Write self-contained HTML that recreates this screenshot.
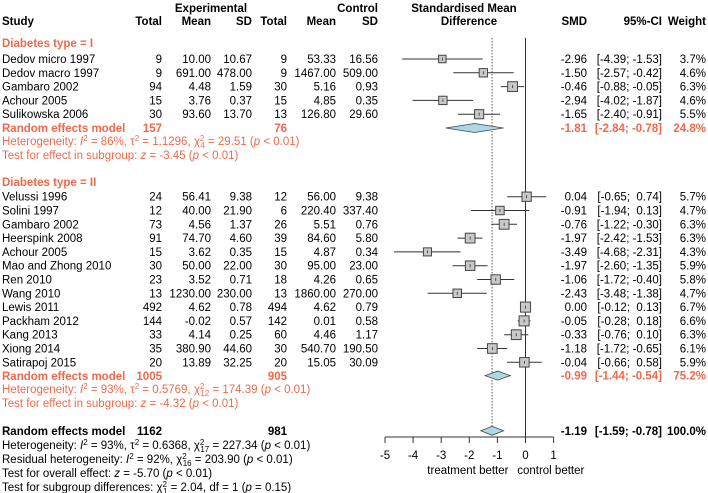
<!DOCTYPE html>
<html><head><meta charset="utf-8"><style>
html,body{margin:0;padding:0;background:#fff;}
svg{display:block;font-family:"Liberation Sans",Arial,sans-serif;font-size:11.5px;}
text{white-space:pre;}
.b{font-weight:bold}
.o{fill:#ee6a4c}
</style></head><body>
<svg id="fp" width="708" height="493" viewBox="0 0 708 493" xml:space="preserve"></svg>
<script>
const studiesI = ["Dedov micro 1997","Dedov macro 1997","Gambaro 2002","Achour 2005","Sulikowska 2006"];
const tableI = [
 ["9","10.00","10.67","9","53.33","16.56"],
 ["9","691.00","478.00","9","1467.00","509.00"],
 ["94","4.48","1.59","30","5.16","0.93"],
 ["15","3.76","0.37","15","4.85","0.35"],
 ["30","93.60","13.70","13","126.80","29.60"]];
const smdI = [-2.96,-1.50,-0.46,-2.94,-1.65];
const loI = [-4.39,-2.57,-0.88,-4.02,-2.40];
const hiI = [-1.53,-0.42,-0.05,-1.87,-0.91];
const wI = [3.7,4.6,6.3,4.6,5.5];
const studiesII = ["Velussi 1996","Solini 1997","Gambaro 2002","Heerspink 2008","Achour 2005","Mao and Zhong 2010","Ren 2010","Wang 2010","Lewis 2011","Packham 2012","Kang 2013","Xiong 2014","Satirapoj 2015"];
const tableII = [
 ["24","56.41","9.38","12","56.00","9.38"],
 ["12","40.00","21.90","6","220.40","337.40"],
 ["73","4.56","1.37","26","5.51","0.76"],
 ["91","74.70","4.60","39","84.60","5.80"],
 ["15","3.62","0.35","15","4.87","0.34"],
 ["30","50.00","22.00","30","95.00","23.00"],
 ["23","3.52","0.71","18","4.26","0.65"],
 ["13","1230.00","230.00","13","1860.00","270.00"],
 ["492","4.62","0.78","494","4.62","0.79"],
 ["144","-0.02","0.57","142","0.01","0.58"],
 ["33","4.14","0.25","60","4.46","1.17"],
 ["35","380.90","44.60","30","540.70","190.50"],
 ["20","13.89","32.25","20","15.05","30.09"]];
const smdII = [0.04,-0.91,-0.76,-1.97,-3.49,-1.97,-1.06,-2.43,0.00,-0.05,-0.33,-1.18,-0.04];
const loII = [-0.65,-1.94,-1.22,-2.42,-4.68,-2.60,-1.72,-3.48,-0.12,-0.28,-0.76,-1.72,-0.66];
const hiII = [0.74,0.13,-0.30,-1.53,-2.31,-1.35,-0.40,-1.38,0.13,0.18,0.10,-0.65,0.58];
const wII = [5.7,4.7,6.3,6.3,4.3,5.9,5.8,4.7,6.7,6.6,6.3,6.1,5.9];
const pooled = [[-1.81,-2.84,-0.78,"24.8%"],[-0.99,-1.44,-0.54,"75.2%"],[-1.19,-1.59,-0.78,"100.0%"]];
const ticks = [-5,-4,-3,-2,-1,0,1];

const svg = document.getElementById('fp');
const NS = "http://www.w3.org/2000/svg";
const X = v => 525.5 + v*28.1;
const fmt = v => (v<0?"-":" ") + Math.abs(v).toFixed(2);
const ci = (lo,hi) => "[" + (lo<0?"-":"") + Math.abs(lo).toFixed(2) + "; " + fmt(hi) + "]";
function el(tag, attrs, parent){const e=document.createElementNS(NS,tag);for(const k in attrs)e.setAttribute(k,attrs[k]);(parent||svg).appendChild(e);return e;}
function txt(x,y,s,anchor,cls,name){const t=el('text',{x:x,y:y,'text-anchor':anchor||'start'});if(cls)t.setAttribute('class',cls);t.textContent=s;


return t;}
function rich(x,y,html,cls,name){const t=el('text',{x:x,y:y});if(cls)t.setAttribute('class',cls);t.innerHTML=html;


return t;}
const colX=[162,211,252,287,336,378];
txt(211,12,"Experimental","middle","b","header-experimental");
txt(378,12,"Control","end","b","header-control");
txt(2,25,"Study","start","b","header-study");
["Total","Mean","SD","Total","Mean","SD"].forEach((h,i)=>txt(colX[i],25,h,"end","b","header-col"));
txt(464,12,"Standardised Mean","middle","b","header-smd-title");
txt(469,25,"Difference","middle","b","header-smd-title2");
txt(587,25,"SMD","end","b","header-smd");
txt(662,25,"95%-CI","end","b","header-ci");
txt(706,25,"Weight","end","b","header-weight");
el('line',{x1:X(0),x2:X(0),y1:38,y2:437,stroke:'#333','stroke-width':1});
el('line',{x1:X(pooled[2][0]),x2:X(pooled[2][0]),y1:38,y2:437,stroke:'#333','stroke-width':0.8,'stroke-dasharray':'1.5,1.5'});
function studyRow(name,tab,s,lo,hi,w,y){
  txt(2,y+4,name,"start",null,"study-name");
  tab.forEach((v,i)=>txt(colX[i],y+4,v,"end",null,"study-value"));
  const ln=el('line',{x1:X(lo),x2:X(hi),y1:y,y2:y,stroke:'#333','stroke-width':1});
  
  const sz=3.9*Math.sqrt(w);
  const r=el('rect',{x:X(s)-sz/2,y:y-sz/2,width:sz,height:sz,fill:'#c8c8c8',stroke:'#444','stroke-width':1});
  
  el('line',{x1:X(s),x2:X(s),y1:y-1.5,y2:y+1.5,stroke:'#333','stroke-width':0.8});
  txt(587,y+4,fmt(s),"end",null,"smd-value");
  txt(662,y+4,ci(lo,hi),"end",null,"ci-value");
  txt(706,y+4,w.toFixed(1)+"%","end",null,"weight-value");
}
function diamond(p,y,cls,name){
  const d=el('polygon',{points:`${X(p[1])},${y} ${X(p[0])},${y-4.5} ${X(p[2])},${y} ${X(p[0])},${y+4.5}`,fill:'#add8e6',stroke:'#444','stroke-width':0.8});
  
  txt(587,y+4,fmt(p[0]),"end",cls,"pooled-smd");
  txt(662,y+4,ci(p[1],p[2]),"end",cls,"pooled-ci");
  txt(706,y+4,p[3],"end",cls,"pooled-weight");
}
const dy=13.8;
txt(2,47,"Diabetes type = I","start","b o","subgroup-1-title");
studiesI.forEach((n,i)=>studyRow(n,tableI[i],smdI[i],loI[i],hiI[i],wI[i],59+i*dy));
txt(2,132,"Random effects model","start","b o","re-model-1");
txt(162,132,"157","end","b o","re-total-1");txt(287,132,"76","end","b o","re-total-1c");
diamond(pooled[0],128,"b o","diamond-group-1");
rich(2,145,'Heterogeneity: <tspan font-style="italic">I</tspan><tspan dy="-4" font-size="8">2</tspan><tspan dy="4"> = 86%, τ</tspan><tspan dy="-4" font-size="8">2</tspan><tspan dy="4"> = 1.1296, χ</tspan><tspan dy="-4" font-size="8">2</tspan><tspan dx="-4" dy="7" font-size="8">4</tspan><tspan dy="-3"> = 29.51 (</tspan><tspan font-style="italic">p</tspan> &lt; 0.01)',"o","heterogeneity-1");
rich(2,159,'Test for effect in subgroup: <tspan font-style="italic">z</tspan> = -3.45 (<tspan font-style="italic">p</tspan> &lt; 0.01)',"o","test-effect-1");
txt(2,186,"Diabetes type = II","start","b o","subgroup-2-title");
studiesII.forEach((n,i)=>studyRow(n,tableII[i],smdII[i],loII[i],hiII[i],wII[i],196.7+i*dy));
txt(2,380,"Random effects model","start","b o","re-model-2");
txt(162,380,"1005","end","b o","re-total-2");txt(287,380,"905","end","b o","re-total-2c");
diamond(pooled[1],375.6,"b o","diamond-group-2");
rich(2,393,'Heterogeneity: <tspan font-style="italic">I</tspan><tspan dy="-4" font-size="8">2</tspan><tspan dy="4"> = 93%, τ</tspan><tspan dy="-4" font-size="8">2</tspan><tspan dy="4"> = 0.5769, χ</tspan><tspan dy="-4" font-size="8">2</tspan><tspan dx="-4" dy="7" font-size="8">12</tspan><tspan dy="-3"> = 174.39 (</tspan><tspan font-style="italic">p</tspan> &lt; 0.01)',"o","heterogeneity-2");
rich(2,407,'Test for effect in subgroup: <tspan font-style="italic">z</tspan> = -4.32 (<tspan font-style="italic">p</tspan> &lt; 0.01)',"o","test-effect-2");
txt(2,435,"Random effects model","start","b","re-model-overall");
txt(162,435,"1162","end","b","re-total-overall");txt(287,435,"981","end","b","re-total-overall-c");
diamond(pooled[2],430.8,"b","diamond-overall");
rich(2,449,'Heterogeneity: <tspan font-style="italic">I</tspan><tspan dy="-4" font-size="8">2</tspan><tspan dy="4"> = 93%, τ</tspan><tspan dy="-4" font-size="8">2</tspan><tspan dy="4"> = 0.6368, χ</tspan><tspan dy="-4" font-size="8">2</tspan><tspan dx="-4" dy="7" font-size="8">17</tspan><tspan dy="-3"> = 227.34 (</tspan><tspan font-style="italic">p</tspan> &lt; 0.01)',null,"heterogeneity-overall");
rich(2,463,'Residual heterogeneity: <tspan font-style="italic">I</tspan><tspan dy="-4" font-size="8">2</tspan><tspan dy="4"> = 92%, χ</tspan><tspan dy="-4" font-size="8">2</tspan><tspan dx="-4" dy="7" font-size="8">16</tspan><tspan dy="-3"> = 203.90 (</tspan><tspan font-style="italic">p</tspan> &lt; 0.01)',null,"residual-heterogeneity");
rich(2,477,'Test for overall effect: <tspan font-style="italic">z</tspan> = -5.70 (<tspan font-style="italic">p</tspan> &lt; 0.01)',null,"test-overall");
rich(2,491,'Test for subgroup differences: χ<tspan dy="-4" font-size="8">2</tspan><tspan dx="-4" dy="7" font-size="8">1</tspan><tspan dy="-3"> = 2.04, df = 1 (</tspan><tspan font-style="italic">p</tspan> = 0.15)',null,"test-subgroup");
const ax=el('line',{x1:X(ticks[0]),x2:X(ticks[ticks.length-1]),y1:437,y2:437,stroke:'#333','stroke-width':1});

ticks.forEach(t=>{el('line',{x1:X(t),x2:X(t),y1:437,y2:443,stroke:'#333','stroke-width':1});txt(X(t),459,String(t),"middle",null,"x-tick-label");});
txt(X(-2.05),474,"treatment better","middle",null,"treatment-better-label");
txt(X(0.9),474,"control better","middle",null,"control-better-label");
</script>
</body></html>
